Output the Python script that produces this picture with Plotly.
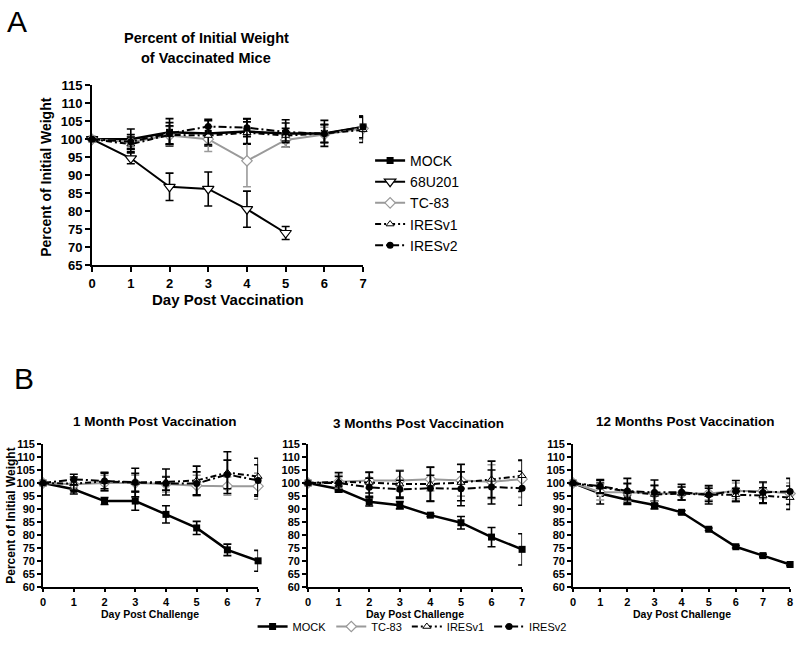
import plotly.graph_objects as go

# ---------------- data ----------------
days_a = [0, 1, 2, 3, 4, 5, 6, 7]
days_a_68 = [0, 1, 2, 3, 4, 5]
a_mock = [100, 100.0, 101.9, 101.6, 102.1, 101.6, 101.6, 103.4]
a_mock_err = [0, 2.8, 3.8, 3.5, 3.5, 3.8, 3.6, 3.0]
a_68u201 = [100, 94.7, 86.8, 86.2, 80.6, 74.0]
a_68u201_err = [0, 1.5, 3.8, 4.7, 5.0, 1.8]
a_tc83 = [100, 99.2, 101.0, 100.0, 94.0, 99.8, 101.3, 103.0]
a_tc83_err = [0, 1.5, 2.5, 3.4, 7.2, 2.0, 2.0, 3.0]
a_iresv1 = [100, 98.6, 101.2, 101.0, 101.8, 101.0, 101.6, 102.6]
a_iresv1_err = [0, 2.0, 2.5, 2.5, 3.0, 2.0, 2.5, 3.5]
a_iresv2 = [100, 99.3, 101.6, 103.5, 103.2, 102.0, 101.5, 103.4]
a_iresv2_err = [0, 2.0, 3.0, 2.0, 2.5, 2.5, 2.5, 3.0]

days_b = [0, 1, 2, 3, 4, 5, 6, 7]
b1_mock = [100, 97.6, 93.1, 93.1, 88.0, 82.8, 74.4, 70.2]
b1_mock_err = [0.5, 1.8, 1.3, 3.5, 3.3, 2.5, 2.2, 4.0]
b1_tc83 = [100, 99.5, 100.0, 100.0, 99.6, 99.0, 98.8, 98.8]
b1_tc83_err = [0, 2.0, 3.0, 3.0, 3.0, 4.0, 3.5, 5.0]
b1_iresv1 = [100, 99.8, 100.6, 100.2, 100.4, 101.0, 104.0, 102.5]
b1_iresv1_err = [0, 2.5, 3.5, 5.5, 5.0, 5.5, 8.0, 7.0]
b1_iresv2 = [100, 101.4, 100.8, 100.2, 99.8, 99.8, 103.3, 101.0]
b1_iresv2_err = [0, 2.0, 3.0, 3.5, 2.5, 4.5, 5.5, 6.0]

b2_mock = [100, 97.7, 92.8, 91.5, 87.7, 84.8, 79.3, 74.6]
b2_mock_err = [0.5, 1.2, 1.6, 1.4, 0.5, 2.4, 3.7, 6.0]
b2_tc83 = [100, 100.5, 101.0, 101.0, 101.5, 101.0, 100.5, 101.5]
b2_tc83_err = [0, 2.5, 3.0, 4.0, 4.5, 6.0, 6.5, 7.0]
b2_iresv1 = [100, 100.5, 100.2, 99.6, 99.6, 100.2, 101.4, 102.8]
b2_iresv1_err = [0, 3.5, 4.0, 5.0, 6.5, 7.0, 7.0, 6.0]
b2_iresv2 = [100, 100.0, 98.4, 97.6, 98.0, 97.8, 98.5, 98.0]
b2_iresv2_err = [0, 2.5, 3.5, 3.5, 5.0, 6.5, 6.5, 6.5]

days_b3 = [0, 1, 2, 3, 4, 5, 6, 7, 8]
b3_mock = [100, 96.0, 93.6, 91.6, 88.8, 82.3, 75.6, 72.2, 68.8]
b3_mock_err = [0.5, 4.0, 1.8, 1.5, 0.6, 0.5, 0.5, 0.5, 0.5]
b3_tc83 = [100, 96.5, 96.5, 96.0, 96.0, 96.0, 97.0, 97.0, 96.0]
b3_tc83_err = [0, 3.0, 3.5, 3.0, 2.5, 2.5, 3.0, 3.0, 4.0]
b3_iresv1 = [100, 98.5, 96.8, 95.6, 96.0, 95.5, 95.5, 95.2, 94.4]
b3_iresv1_err = [0, 2.5, 3.0, 3.5, 2.5, 2.5, 2.5, 3.0, 4.5]
b3_iresv2 = [100, 98.8, 97.0, 96.4, 96.5, 95.5, 97.0, 96.4, 96.8]
b3_iresv2_err = [0, 2.5, 4.8, 4.8, 3.0, 3.5, 4.0, 4.0, 5.0]

FONT = "Liberation Sans, Arial, sans-serif"
W, H = 800, 649
GRAY = "#9a9a9a"

# target picture pixel -> paper fraction (small correction for observed render offset)
def px(x):
    return ((x - 3.9) / 0.99) / W

def py(y):
    return 1 - ((y - 6.7) / 0.98) / H

styles = {
    "MOCK": dict(line=dict(color="black", width=2.5),
                 marker=dict(symbol="square", size=7, color="black")),
    "68U201": dict(line=dict(color="black", width=2),
                   marker=dict(symbol="triangle-down", size=10, color="white",
                               line=dict(color="black", width=1.2))),
    "TC-83": dict(line=dict(color=GRAY, width=2),
                  marker=dict(symbol="diamond", size=8, color="white",
                              line=dict(color=GRAY, width=1.2))),
    "IRESv1": dict(line=dict(color="black", width=2, dash="6px,3px,2px,3px"),
                   marker=dict(symbol="triangle-up", size=7, color="white",
                               line=dict(color="black", width=1))),
    "IRESv2": dict(line=dict(color="black", width=2, dash="8px,3px,2px,3px"),
                   marker=dict(symbol="circle", size=7, color="black")),
}

fig = go.Figure()

def add(name, x, y, err, xa, ya, legend, showlegend):
    st = styles[name]
    ecol = st["line"]["color"]
    fig.add_trace(go.Scatter(
        x=x, y=y, name=name, mode="lines+markers",
        line=st["line"], marker=st["marker"],
        error_y=dict(type="data", array=err, visible=True, color=ecol,
                     thickness=1.6, width=4),
        xaxis=xa, yaxis=ya, legend=legend, showlegend=showlegend,
        cliponaxis=False,
    ))

# Panel A
add("MOCK", days_a, a_mock, a_mock_err, "x", "y", "legend", True)
add("68U201", days_a_68, a_68u201, a_68u201_err, "x", "y", "legend", True)
add("TC-83", days_a, a_tc83, a_tc83_err, "x", "y", "legend", True)
add("IRESv1", days_a, a_iresv1, a_iresv1_err, "x", "y", "legend", True)
add("IRESv2", days_a, a_iresv2, a_iresv2_err, "x", "y", "legend", True)

# Panel B
panels = [
    ("x2", "y2", days_b, [b1_mock, b1_tc83, b1_iresv1, b1_iresv2],
     [b1_mock_err, b1_tc83_err, b1_iresv1_err, b1_iresv2_err], True),
    ("x3", "y3", days_b, [b2_mock, b2_tc83, b2_iresv1, b2_iresv2],
     [b2_mock_err, b2_tc83_err, b2_iresv1_err, b2_iresv2_err], False),
    ("x4", "y4", days_b3, [b3_mock, b3_tc83, b3_iresv1, b3_iresv2],
     [b3_mock_err, b3_tc83_err, b3_iresv1_err, b3_iresv2_err], False),
]
for xa, ya, d, ser, errs, show in panels:
    for name, s, e in zip(["MOCK", "TC-83", "IRESv1", "IRESv2"], ser, errs):
        add(name, d, s, e, xa, ya, "legend2", show)

def axis_common(tsize, tlen):
    return dict(showline=True, linecolor="black", linewidth=2, ticks="outside",
                ticklen=tlen, tickwidth=2, tickcolor="black", showgrid=False,
                zeroline=False, mirror=False,
                tickfont=dict(family=FONT, size=tsize, color="black", weight="bold"))

layout = dict(
    width=W, height=H, margin=dict(l=0, r=0, t=0, b=0),
    plot_bgcolor="white", paper_bgcolor="white",
    font=dict(family=FONT, color="black"),
    xaxis=dict(domain=[px(92), px(363)], range=[0, 7], dtick=1, anchor="y",
               **axis_common(13, 5)),
    yaxis=dict(domain=[py(266), py(85)], range=[65, 115], dtick=5, anchor="x",
               **axis_common(13, 5)),
    xaxis2=dict(domain=[px(43), px(258)], range=[0, 7], dtick=1, anchor="y2",
                **axis_common(11, 3)),
    yaxis2=dict(domain=[py(589), py(445)], range=[60, 115], dtick=5, anchor="x2",
                **axis_common(11, 4)),
    xaxis3=dict(domain=[px(308), px(522)], range=[0, 7], dtick=1, anchor="y3",
                **axis_common(11, 3)),
    yaxis3=dict(domain=[py(589), py(445)], range=[60, 115], dtick=5, anchor="x3",
                **axis_common(11, 4)),
    xaxis4=dict(domain=[px(573), px(790)], range=[0, 8], dtick=1, anchor="y4",
                **axis_common(11, 3)),
    yaxis4=dict(domain=[py(589), py(445)], range=[60, 115], dtick=5, anchor="x4",
                **axis_common(11, 4)),
    legend=dict(x=px(370), y=py(145), xanchor="left", yanchor="top",
                font=dict(family=FONT, size=14, color="black"),
                bgcolor="rgba(0,0,0,0)"),
    legend2=dict(orientation="h", x=px(412), y=0.0, xanchor="center",
                 yanchor="bottom", font=dict(family=FONT, size=11, color="black"),
                 bgcolor="rgba(0,0,0,0)"),
    showlegend=True,
)
fig.update_layout(**layout)

def ann(text, x, y, size, bold=True, angle=0):
    fig.add_annotation(text=text, x=px(x), y=py(y), xref="paper", yref="paper",
                       showarrow=False, textangle=angle, xanchor="center",
                       yanchor="middle",
                       font=dict(family=FONT, size=size, color="black",
                                 weight="bold" if bold else "normal"))

ann("A", 17, 21, 30, bold=False)
ann("B", 24, 379, 30, bold=False)
ann("Percent of Initial Weight", 206, 38, 14.5)
ann("of Vaccinated Mice", 206, 58, 14.5)
ann("Percent of Initial Weight", 46, 177, 14, angle=-90)
ann("Day Post Vaccination", 228, 300, 15)
ann("1 Month Post Vaccination", 155, 423, 13.5)
ann("3 Months Post Vaccination", 418, 425, 13.5)
ann("12 Months Post Vaccination", 685, 423, 13.5)
ann("Percent of Initial Weight", 11, 517, 12, angle=-90)
ann("Day Post Challenge", 150, 616, 10.5)
ann("Day Post Challenge", 415, 616, 10.5)
ann("Day Post Challenge", 682, 616, 10.5)

fig.write_html("out.html", config={"displayModeBar": False},
               post_script="document.body.style.margin='0';document.body.style.overflow='hidden';")
